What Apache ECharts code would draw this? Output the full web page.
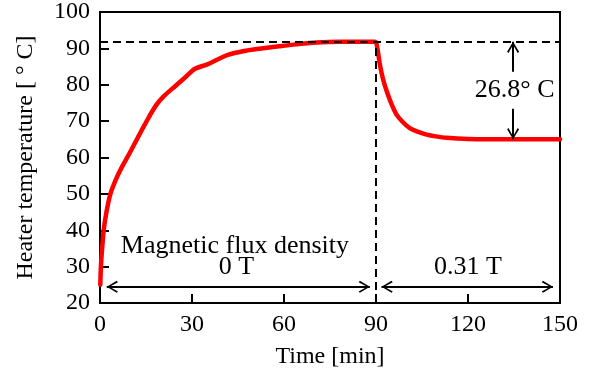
<!DOCTYPE html>
<html>
<head>
<meta charset="utf-8">
<script src="https://cdn.jsdelivr.net/npm/echarts@6/dist/echarts.min.js"></script>
<style>
html,body{margin:0;padding:0;background:#fff;}
#chart{width:595px;height:376px;}
</style>
</head>
<body>
<div id="chart"></div>
<script>
// Heater temperature curve
const timeMin = [0.1, 0.3, 0.7, 1.2, 2.1, 3.4, 5.2, 7.2, 9.2, 11.4, 13.6, 16, 18.5, 21, 24.5, 28, 31, 35, 38.5, 41.7, 46.6, 52, 58.7, 64, 70.6, 78, 89.7, 90.4, 91.3, 92.3, 93.5, 95, 96.7, 98.8, 101, 103.5, 106.5, 109.5, 113, 120, 135, 150];
const tempC   = [25, 30, 35, 40, 45, 50, 54, 57.5, 60.5, 64, 67.5, 71.2, 74.6, 77, 79.6, 82.2, 84.4, 85.6, 87, 88.2, 89.2, 89.9, 90.6, 91.1, 91.6, 91.8, 91.8, 90.2, 85.4, 81.5, 78.2, 74.8, 71.8, 69.7, 68.1, 67.1, 66.3, 65.8, 65.4, 65.1, 65.0, 65.0];

// reference levels
const peakTemp = 91.8;
const finalTemp = 65.0;
const switchTime = 90;

// tick settings
const xMin = 0, xMax = 150, xStep = 30;
const yMin = 20, yMax = 100, yStep = 10;

// annotations
const annText = ['Magnetic flux density', '0 T', '0.31 T', '26.8° C'];
const annX = [44, 44.5, 120, 135.2];
const annY = [35.6, 29.9, 29.9, 78.6];

// arrows
const arrowY = 24.45;
const leftArrow = [2.2, 88];
const rightArrow = [91.8, 147.7];
const vArrowX = 134.7;
const vArrowUpperStart = 83.6;
const vArrowLowerStart = 73.4;

const FONT = '"Liberation Serif", "Times New Roman", serif';
const chev = 'path://M0,0 M12,24 M6,12 L12,22 L10.6,23.2 L6,14.8 L1.4,23.2 L0,22 Z';

const chart = echarts.init(document.getElementById('chart'));
chart.setOption({
  animation: false,
  backgroundColor: '#fff',
  grid: { left: 100, right: 35, top: 10, bottom: 73, show: true, borderColor: '#000', borderWidth: 2, backgroundColor: 'transparent' },
  xAxis: {
    type: 'value', min: xMin, max: xMax, interval: xStep,
    name: 'Time [min]', nameLocation: 'middle', nameGap: 42,
    nameTextStyle: { fontFamily: FONT, fontSize: 24, color: '#000' },
    axisLine: { show: true, lineStyle: { color: '#000', width: 2 } },
    axisTick: { show: true, inside: true, length: 9, lineStyle: { color: '#000', width: 2 } },
    axisLabel: { margin: 10, fontFamily: FONT, fontSize: 24, color: '#000' },
    splitLine: { show: false }
  },
  yAxis: {
    type: 'value', min: yMin, max: yMax, interval: yStep,
    name: 'Heater temperature [ ° C]', nameLocation: 'middle', nameGap: 62,
    nameTextStyle: { fontFamily: FONT, fontSize: 24, color: '#000' },
    axisLine: { show: true, lineStyle: { color: '#000', width: 2 } },
    axisTick: { show: true, inside: true, length: 9, lineStyle: { color: '#000', width: 2 } },
    axisLabel: { margin: 10, fontFamily: FONT, fontSize: 24, color: '#000' },
    splitLine: { show: false }
  },
  series: [
    {
      type: 'line',
      data: timeMin.map((t, i) => [t, tempC[i]]),
      showSymbol: false, symbol: 'none',
      smooth: 0.3,
      lineStyle: { color: '#ff0000', width: 4.5, cap: 'round', join: 'round' },
      z: 2
    },
    {
      type: 'line', data: [], z: 5,
      markLine: {
        silent: true, symbol: ['none', 'none'], label: { show: false },
        lineStyle: { color: '#000', width: 2, type: [8, 5] },
        data: [
          [{ coord: [xMin, peakTemp] }, { coord: [xMax, peakTemp] }],
          [{ coord: [switchTime, yMin] }, { coord: [switchTime, peakTemp] }]
        ]
      }
    },
    {
      type: 'line', data: [], z: 6,
      markLine: {
        silent: true, symbol: [chev, chev], symbolSize: [12, 24], label: { show: false },
        lineStyle: { color: '#000', width: 2, type: 'solid' },
        data: [
          [{ coord: [leftArrow[0], arrowY] }, { coord: [leftArrow[1], arrowY] }],
          [{ coord: [rightArrow[0], arrowY] }, { coord: [rightArrow[1], arrowY] }],
          [{ coord: [vArrowX, vArrowUpperStart], symbol: 'none' }, { coord: [vArrowX, peakTemp] }],
          [{ coord: [vArrowX, vArrowLowerStart], symbol: 'none' }, { coord: [vArrowX, finalTemp] }]
        ]
      }
    },
    {
      type: 'scatter', z: 7, silent: true,
      symbolSize: 0,
      itemStyle: { color: '#000' },
      data: annText.map((s, i) => ({ name: s, value: [annX[i], annY[i]] })),
      label: { show: true, position: 'inside', formatter: '{b}', fontFamily: FONT, fontSize: 26, color: '#000', textBorderWidth: 0, textBorderColor: 'transparent', opacity: 1 }
    }
  ]
});
</script>
</body>
</html>
